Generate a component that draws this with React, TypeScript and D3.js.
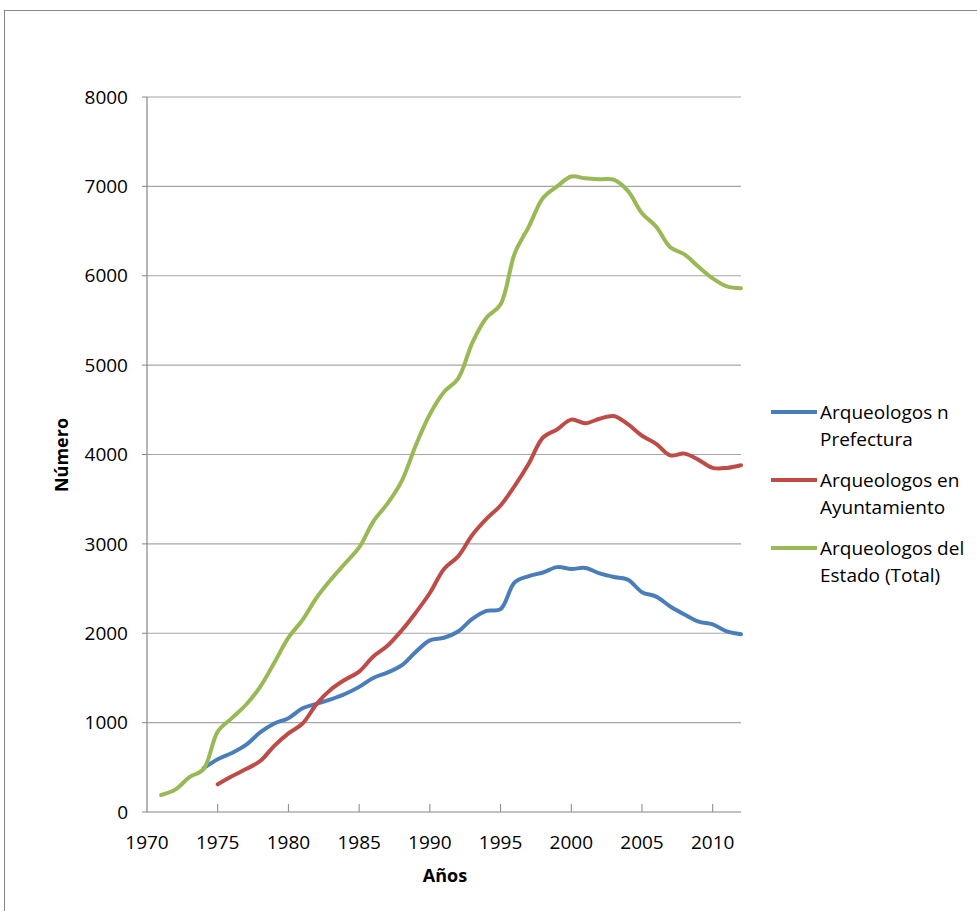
import React from "react";
import * as d3 from "d3";

// values
const prefecturaYears = d3.range(1974, 2013);
const prefectura = [
  490, 590, 660, 750, 890, 990, 1050, 1160, 1210, 1260,
  1320, 1400, 1500, 1560, 1640, 1790, 1920, 1950, 2020, 2160,
  2250, 2270, 2570, 2640, 2680, 2740, 2720, 2730, 2670, 2630,
  2600, 2460, 2410, 2300, 2210, 2130, 2100, 2020, 1990,
];

const ayuntamientoYears = d3.range(1975, 2013);
const ayuntamiento = [
  310, 400, 480, 570, 740, 880, 990, 1210, 1370, 1480,
  1570, 1740, 1860, 2030, 2230, 2450, 2720, 2860, 3100, 3280,
  3430, 3650, 3900, 4190, 4280, 4390, 4350, 4400, 4430, 4340,
  4210, 4120, 3990, 4010, 3940, 3850, 3850, 3880,
];

const estadoYears = d3.range(1971, 2013);
const estado = [
  190, 250, 390, 480, 900, 1050, 1200, 1400, 1670, 1950,
  2150, 2400, 2600, 2780, 2960, 3250, 3450, 3700, 4100, 4450,
  4700, 4850, 5250, 5530, 5680, 6250, 6550, 6870, 7000, 7110,
  7090, 7080, 7075, 6950, 6700, 6550, 6320, 6240, 6100, 5970,
  5880, 5860,
];

const seriesNames = [
  ["Arqueologos n", "Prefectura"],
  ["Arqueologos en", "Ayuntamiento"],
  ["Arqueologos del", "Estado (Total)"],
];
const seriesColors = ["#4a7ebb", "#be4b48", "#98b954"];

const yTicks = [0, 1000, 2000, 3000, 4000, 5000, 6000, 7000, 8000];
const xTicks = [1970, 1975, 1980, 1985, 1990, 1995, 2000, 2005, 2010];

const font = "'Open Sans', 'Liberation Sans', sans-serif";

export default function App() {
  const width = 977;
  const height = 911;
  const plot = { left: 147, right: 741, top: 97, bottom: 812 };

  const x = d3.scaleLinear().domain([1970, 2012]).range([plot.left, plot.right]);
  const y = d3.scaleLinear().domain([0, 8000]).range([plot.bottom, plot.top]);

  const line = d3
    .line<[number, number]>()
    .x((d) => x(d[0]))
    .y((d) => y(d[1]))
    .curve(d3.curveCatmullRom.alpha(0.5));

  const series = [
    d3.zip(prefecturaYears, prefectura) as [number, number][],
    d3.zip(ayuntamientoYears, ayuntamiento) as [number, number][],
    d3.zip(estadoYears, estado) as [number, number][],
  ];

  return (
    <svg
      width={width}
      height={height}
      style={{ position: "absolute", left: 0, top: 0, background: "#fff" }}
      fontFamily={font}
    >
      <rect x={4.5} y={10.5} width={1100} height={1100} fill="none" stroke="#868686" strokeWidth={1} />

      {/* gridlines */}
      {yTicks.slice(1).map((t) => (
        <line key={t} x1={plot.left} x2={plot.right} y1={y(t)} y2={y(t)} stroke="#a6a6a6" strokeWidth={1.2} />
      ))}

      {/* axes */}
      <line x1={plot.left} x2={plot.left} y1={plot.top} y2={plot.bottom} stroke="#868686" strokeWidth={1.2} />
      <line x1={plot.left} x2={plot.right} y1={plot.bottom} y2={plot.bottom} stroke="#868686" strokeWidth={1.2} />
      {yTicks.map((t) => (
        <g key={t}>
          <line x1={plot.left - 5} x2={plot.left} y1={y(t)} y2={y(t)} stroke="#868686" />
          <text x={128} y={y(t)} dy="0.35em" textAnchor="end" fontSize={19} fill="#000">
            {t}
          </text>
        </g>
      ))}
      {xTicks.map((t) => (
        <g key={t}>
          {t > 1970 && (
            <line x1={x(t)} x2={x(t)} y1={plot.bottom - 8} y2={plot.bottom} stroke="#868686" />
          )}
          <text x={x(t)} y={849} textAnchor="middle" fontSize={19} fill="#000">
            {t}
          </text>
        </g>
      ))}

      <text x={445} y={882} textAnchor="middle" fontSize={18} fontWeight="bold">
        Años
      </text>
      <text
        transform={`translate(68,455) rotate(-90)`}
        textAnchor="middle"
        fontSize={18}
        fontWeight="bold"
      >
        Número
      </text>

      {/* lines */}
      {series.map((s, i) => (
        <path key={i} d={line(s) || ""} fill="none" stroke={seriesColors[i]} strokeWidth={4} strokeLinejoin="round" strokeLinecap="round" />
      ))}

      {/* legend */}
      {seriesNames.map((names, i) => {
        const ly = 412 + i * 68;
        return (
          <g key={i}>
            <line x1={771} x2={817} y1={ly} y2={ly} stroke={seriesColors[i]} strokeWidth={4} />
            <text x={820} y={ly + 7} fontSize={19} fill="#000">
              {names[0]}
            </text>
            <text x={820} y={ly + 34} fontSize={19} fill="#000">
              {names[1]}
            </text>
          </g>
        );
      })}
    </svg>
  );
}
